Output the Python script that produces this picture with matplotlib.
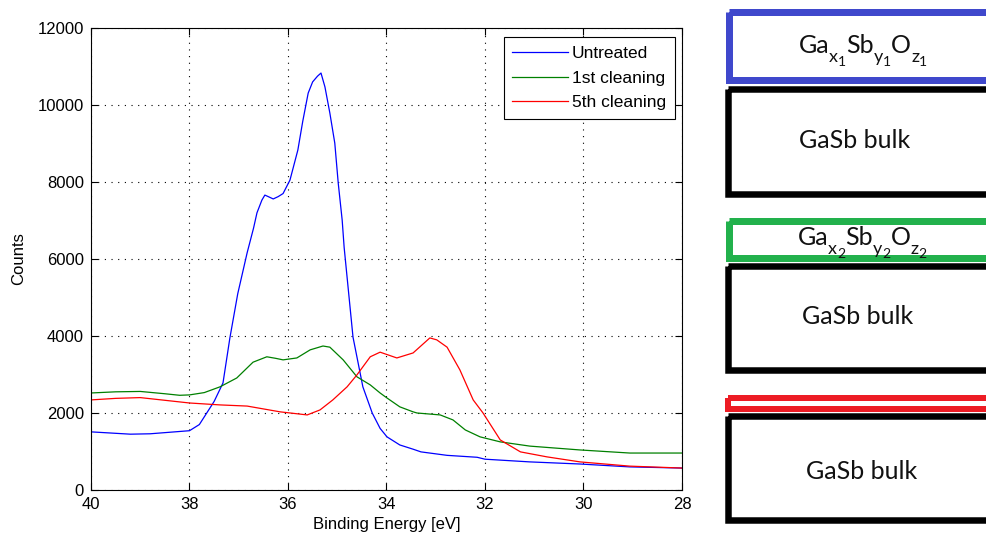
"""Sb 4d XPS spectra of GaSb before/after cleaning, with a layer sketch of the
oxide left on top of the bulk after each step."""

import matplotlib
matplotlib.use("Agg")
import matplotlib.pyplot as plt
from matplotlib.patches import Rectangle

plt.rcParams["font.family"] = ["Liberation Sans", "DejaVu Sans"]

# spectra: binding energy [eV] -> counts
be_untreated = [40.0, 39.6, 39.2, 38.8, 38.4, 38.0, 37.8, 37.7, 37.5, 37.32, 37.18,
                37.02, 36.83, 36.7, 36.63, 36.53, 36.47, 36.4, 36.3, 36.2, 36.1,
                35.96, 35.8, 35.7, 35.59, 35.5, 35.4, 35.33, 35.25, 35.15, 35.05,
                34.98, 34.9, 34.86, 34.68, 34.48, 34.29, 34.13, 33.99, 33.73, 33.46,
                33.3, 32.77, 32.16, 32.0, 31.09, 30.07, 29.06, 28.0]
cnt_untreated = [1510, 1480, 1450, 1460, 1500, 1540, 1700, 1900, 2300, 2780, 3950,
                 5100, 6160, 6800, 7200, 7530, 7660, 7620, 7560, 7620, 7700,
                 8050, 8830, 9580, 10310, 10600, 10750, 10830, 10470, 9790, 9010,
                 7970, 7010, 6300, 3970, 2680, 2000, 1600, 1380, 1170, 1060,
                 990, 900, 850, 800, 730, 675, 600, 570]

be_clean1 = [40.0, 39.5, 39.0, 38.5, 38.2, 38.0, 37.7, 37.38, 37.04, 36.71, 36.43,
             36.25, 36.1, 35.82, 35.55, 35.29, 35.15, 34.88, 34.6, 34.33, 34.13,
             33.99, 33.73, 33.46, 33.38, 32.91, 32.65, 32.4, 32.1, 31.69, 31.09,
             30.07, 29.06, 28.0]
cnt_clean1 = [2520, 2550, 2560, 2500, 2460, 2470, 2530, 2680, 2910, 3320, 3460,
              3420, 3380, 3430, 3640, 3740, 3710, 3380, 2940, 2730, 2520,
              2390, 2160, 2030, 2000, 1950, 1820, 1560, 1380, 1250, 1140,
              1040, 960, 960]

be_clean5 = [40.0, 39.5, 39.0, 38.5, 38.0, 37.38, 36.83, 36.16, 35.61, 35.35, 35.09,
             34.8, 34.6, 34.33, 34.13, 33.79, 33.46, 33.12, 32.98, 32.77, 32.51,
             32.24, 32.04, 31.69, 31.28, 30.74, 30.07, 29.06, 28.0]
cnt_clean5 = [2340, 2380, 2400, 2330, 2260, 2210, 2180, 2030, 1950, 2080, 2340,
              2680, 2990, 3460, 3580, 3430, 3560, 3950, 3900, 3710, 3120,
              2340, 2000, 1300, 990, 860, 730, 620, 570]

labels = ["Untreated", "1st cleaning", "5th cleaning"]
x_ticks = [40, 38, 36, 34, 32, 30, 28]
y_ticks = [0, 2000, 4000, 6000, 8000, 10000, 12000]

W, H = 987, 541
fig = plt.figure(figsize=(W / 100, H / 100), dpi=100)
ax = fig.add_axes([91 / W, 51 / H, 591 / W, 462 / H])

ax.plot(be_untreated, cnt_untreated, color="#0000ff", lw=0.9, label=labels[0])
ax.plot(be_clean1, cnt_clean1, color="#008000", lw=0.9, label=labels[1])
ax.plot(be_clean5, cnt_clean5, color="#ff0000", lw=0.9, label=labels[2])

ax.set_xlim(40, 28)
ax.set_ylim(0, 12000)
ax.set_xticks(x_ticks)
ax.set_yticks(y_ticks)
ax.tick_params(direction="in", top=True, right=True, length=5, width=0.8,
               labelsize=12, pad=5)
ax.grid(True, color="black", linestyle=(0, (1, 5)), linewidth=0.8)
for s in ax.spines.values():
    s.set_linewidth(0.8)
ax.set_xlabel("Binding Energy [eV]", fontsize=12, labelpad=4)
ax.set_ylabel("Counts", fontsize=12, labelpad=8)

leg = ax.legend(loc="upper right", bbox_to_anchor=(0.988, 0.98), borderaxespad=0,
                fancybox=False, edgecolor="black", fontsize=12.5, handlelength=3.2,
                handletextpad=0.25, borderpad=0.5, labelspacing=0.55)
leg.get_frame().set_linewidth(0.8)
leg.get_frame().set_alpha(1)

# layer sketch on the right; data units here are figure pixels
sk = fig.add_axes([700 / W, 0, 287 / W, 1])
sk.set_xlim(700, 987)
sk.set_ylim(H, 0)
sk.axis("off")

px = 72 / 100  # points per pixel


def layer(y0, y1, color, width_px):
    sk.add_patch(Rectangle((725 + width_px / 2, y0), 400, y1 - y0, fill=False,
                           edgecolor=color, lw=width_px * px, joinstyle="miter"))


layer(11.5, 79.5, "#3f48cc", 7)
layer(89, 194, "black", 6.5)
layer(220.5, 257.5, "#22b14c", 7)
layer(265.5, 369.5, "black", 6.5)
layer(398, 409, "#ed1c24", 6)
layer(416, 520, "black", 6.5)

txt = dict(color="#111111", family="Lato")
renderer = fig.canvas.get_renderer()


def oxide(xc, base, n):
    # Ga_{x_n} Sb_{y_n} O_{z_n}, laid out piece by piece
    parts = []
    for el, sub in (("Ga", "x"), ("Sb", "y"), ("O", "z")):
        parts += [(el, 18, 0), (sub, 13, 9), (n, 10, 13)]
    items = []
    for s, size, dy in parts:
        t = sk.text(0, base + dy, s, fontsize=size, ha="left", va="baseline", **txt)
        items.append(t)
    widths = [t.get_window_extent(renderer).width for t in items]
    x = xc - sum(widths) / 2
    for t, w in zip(items, widths):
        t.set_x(x)
        x += w


oxide(863, 53, "1")
oxide(862, 245, "2")

bulk = dict(ha="center", va="baseline", fontsize=18, **txt)
sk.text(855, 148, "GaSb bulk", **bulk)
sk.text(858, 324, "GaSb bulk", **bulk)
sk.text(862, 479, "GaSb bulk", **bulk)

fig.savefig("out.png", dpi=100)
